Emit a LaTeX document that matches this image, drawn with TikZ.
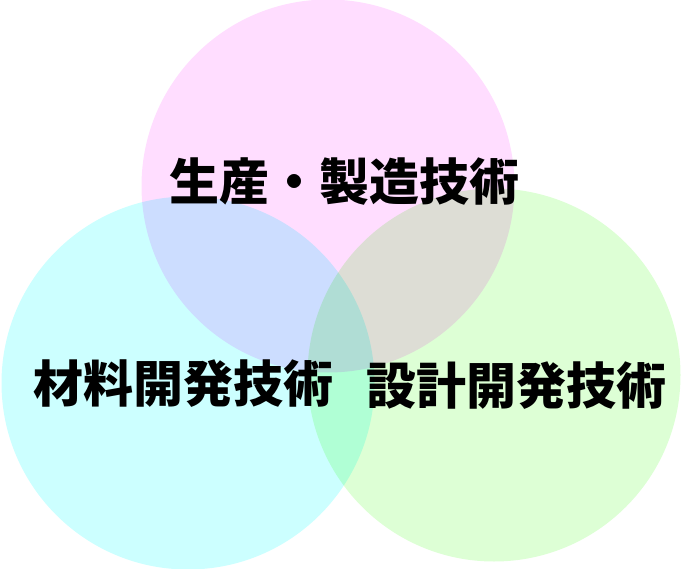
\documentclass[tikz,border=0pt]{standalone}
\usepackage{fontspec}
\newfontfamily\jpfont{Noto Sans CJK JP}
\usepackage{tikz}
\usetikzlibrary{positioning}
\definecolor{prodpink}{HTML}{FFDDFF}
\definecolor{matcyan}{HTML}{CCFFFF}
\definecolor{desgreen}{HTML}{DDFFD5}
\tikzset{set node/.style={circle, minimum size=373pt, inner sep=0pt, outer sep=0pt},
  label node/.style={font=\jpfont\bfseries\fontsize{50}{60}\selectfont, inner sep=0pt},}

\begin{document}
\begin{tikzpicture}[x=1pt, y=-1pt]
        \useasboundingbox (0,0) rectangle (690,569);
        % Sets
        \begin{scope}[blend mode=multiply]
        \node[set node, fill=prodpink] (1) at (328,186) {};
        \node[set node, fill=matcyan] (2) at (188,383) {};
        \node[set node, fill=desgreen] (3) at (494,375) {};
        \end{scope}
        % Labels
        \node[label node] (4) at (344,182) {生産・製造技術};
        \node[label node] (5) at (183,384) {材料開発技術};
        \node[label node] (6) at (516,386) {設計開発技術};
    \end{tikzpicture}
\end{document}
